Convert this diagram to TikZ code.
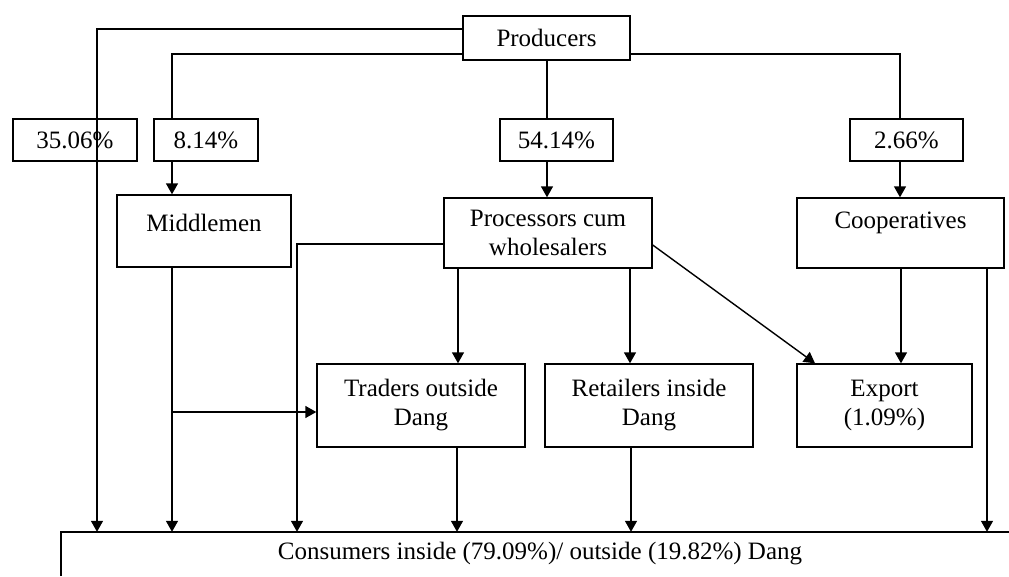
\documentclass[tikz,border=0pt]{standalone}
\usepackage{fontspec}
\setmainfont{Liberation Serif}
\usetikzlibrary{arrows.meta}
\newcommand\diagfont{\fontsize{25}{29}\selectfont}
\tikzset{
  box/.style={draw, line width=1.4pt, inner sep=0pt, align=center, font=\diagfont},
  ln/.style={line width=1.4pt},
  arr/.style={line width=1.4pt, -{Triangle[length=11pt,width=12pt]}}
}
\begin{document}
\begin{tikzpicture}[x=1pt,y=-1pt]
\useasboundingbox[fill=white] (0,0) rectangle (1009,576);
% nodes
\node[box, minimum width=167pt, minimum height=44pt] (prod) at (546.5,38) {Producers};
\node[box, minimum width=124pt, minimum height=42pt] (p1) at (75,140) {35.06\%};
\node[box, minimum width=104pt, minimum height=42pt] (p2) at (206,140) {8.14\%};
\node[box, minimum width=113pt, minimum height=42pt] (p3) at (556.5,140) {54.14\%};
\node[box, minimum width=113pt, minimum height=42pt] (p4) at (906.5,140) {2.66\%};
\node[box, minimum width=174pt, minimum height=72pt, text height=17pt, text depth=17pt] (mid) at (204,231) {Middlemen};
\node[box, minimum width=208pt, minimum height=70pt] (proc) at (548,233) {Processors cum\\wholesalers};
\node[box, minimum width=207pt, minimum height=70pt, text height=17pt, text depth=27pt] (coop) at (900.5,233) {Cooperatives};
\node[box, minimum width=208pt, minimum height=83pt] (trad) at (421,405.5) {Traders outside\\Dang};
\node[box, minimum width=208pt, minimum height=83pt] (ret) at (649,405.5) {Retailers inside\\Dang};
\node[box, minimum width=175pt, minimum height=83pt] (exp) at (884.5,405.5) {Export\\(1.09\%)};
\node[font=\diagfont, inner sep=0pt, minimum width=958pt, minimum height=44pt] (cons) at (540,554) {Consumers inside (79.09\%)/ outside (19.82\%) Dang};
\draw[ln] (cons.south west) |- ([xshift=-10pt]cons.north east);
% connectors
\draw[arr] ([yshift=9pt]prod.west) -| (97,0 |- cons.north);
\draw[ln] ([yshift=-16pt]prod.west) -| (172,0 |- p2.north);
\draw[arr] (172,0 |- p2.south) -- (172,0 |- mid.north);
\draw[arr] (172,0 |- mid.south) -- (172,0 |- cons.north);
\coordinate (tw) at ([yshift=-6.5pt]trad.west);
\draw[arr] (172,0 |- tw) -- (tw);
\draw[ln] (547,0 |- prod.south) -- (547,0 |- p3.north);
\draw[arr] (547,0 |- p3.south) -- (547,0 |- proc.north);
\draw[ln] ([yshift=-16pt]prod.east) -| (900,0 |- p4.north);
\draw[arr] (900,0 |- p4.south) -- (900,0 |- coop.north);
\coordinate (pw) at ([yshift=-11pt]proc.west);
\draw[arr] (pw) -| (297,0 |- cons.north);
\draw[arr] (458,0 |- proc.south) -- (458,0 |- trad.north);
\draw[arr] (630,0 |- proc.south) -- (630,0 |- ret.north);
\draw[arr] ([yshift=-12pt]proc.east) -- (815,0 |- exp.north);
\draw[arr] (901,0 |- coop.south) -- (901,0 |- exp.north);
\draw[arr] (987,0 |- coop.south) -- (987,0 |- cons.north);
\draw[arr] (457,0 |- trad.south) -- (457,0 |- cons.north);
\draw[arr] (631,0 |- ret.south) -- (631,0 |- cons.north);
\end{tikzpicture}
\end{document}
